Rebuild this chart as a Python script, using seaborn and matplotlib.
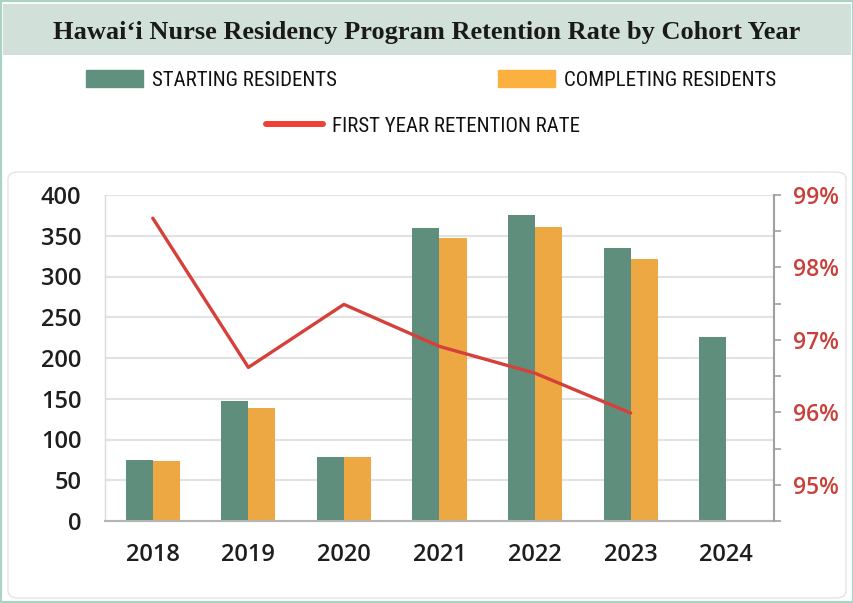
import matplotlib
matplotlib.use('Agg')
import matplotlib.pyplot as plt
import seaborn as sns
import pandas as pd
import numpy as np
from matplotlib.patches import Patch, Rectangle, FancyBboxPatch
from matplotlib.lines import Line2D
from matplotlib.ticker import MultipleLocator, FuncFormatter
from matplotlib import font_manager

years = ['2018', '2019', '2020', '2021', '2022', '2023', '2024']
starting = [75, 147, 79, 359, 375, 335, 226]
completing = [74, 139, 78, 347, 361, 321, np.nan]
retention = [98.68, 96.62, 97.49, 96.91, 96.54, 95.99]

green = '#5f8f7c'
orange = '#eea843'
red = '#d6403a'

sns.set_style('white')
installed = {f.name for f in font_manager.fontManager.ttflist}


def pick(names):
    for n in names:
        if n in installed:
            return n
    return 'DejaVu Sans'


legend_font = pick(['Liberation Sans Narrow', 'Roboto Condensed', 'Roboto', 'Open Sans'])
tick_font = pick(['Open Sans', 'Noto Sans'])
plt.rcParams['font.family'] = [tick_font, 'DejaVu Sans']

W, H = 854, 603
fig = plt.figure(figsize=(W / 100, H / 100), dpi=100)

# frame, title band and chart panel
fig.add_artist(Rectangle((0, 0), 1, 1, transform=fig.transFigure, fill=False,
                         ec='#a9d4c5', lw=3, zorder=-3))
fig.add_artist(Rectangle((3 / W, 1 - 55 / H), 1 - 6 / W, 51 / H, transform=fig.transFigure,
                         fc='#d1e0d9', ec='none', zorder=-2))
fig.add_artist(FancyBboxPatch((8 / W, 1 - 598 / H), 838 / W, 426 / H,
                              boxstyle='round,pad=0,rounding_size=0.012',
                              transform=fig.transFigure, fc='white', ec='#e4e4e4',
                              lw=1, zorder=-1))

fig.text(0.5, 1 - 33 / H, 'Hawaiʻi Nurse Residency Program Retention Rate by Cohort Year',
         ha='center', va='center', fontsize=19, fontweight='bold',
         family=['Liberation Serif', 'DejaVu Serif'], color='#1a1a1a')

ax = fig.add_axes([105 / W, 1 - 521 / H, 669 / W, 326 / H])
ax.patch.set_alpha(0)
df = pd.DataFrame({
    'year': years * 2,
    'series': ['STARTING RESIDENTS'] * len(years) + ['COMPLETING RESIDENTS'] * len(years),
    'count': starting + completing,
})
sns.barplot(data=df, x='year', y='count', hue='series', order=years,
            palette=[green, orange], width=0.566, saturation=1, legend=False,
            linewidth=0, ax=ax)
ax.set_xlim(-0.5, 6.5)
ax.set_ylim(0, 400)
ax.set_yticks(range(0, 401, 50))
ax.grid(axis='y', color='#e2e2e2', lw=1.5)
ax.set_axisbelow(True)
ax.set_xlabel('')
ax.set_ylabel('')
ax.tick_params(axis='x', length=0, pad=16, labelsize=17, labelcolor='#1e1e1e')
ax.tick_params(axis='y', length=0, pad=17, labelsize=17, labelcolor='#1e1e1e')
for lab in ax.get_xticklabels() + ax.get_yticklabels():
    lab.set_fontweight(600)
for s in ['top', 'right']:
    ax.spines[s].set_visible(False)
ax.spines['left'].set_color('#d9d9d9')
ax.spines['left'].set_linewidth(1)
ax.spines['bottom'].set_color('#b3b3b3')
ax.spines['bottom'].set_linewidth(1.5)

ax2 = ax.twinx()
sns.lineplot(x=years[:len(retention)], y=retention, ax=ax2, color=red, lw=2.4)
ax.set_xlim(-0.5, 6.5)
ax2.set_ylim(94.5, 99)
ax2.set_yticks([95, 96, 97, 98, 99])
ax2.yaxis.set_minor_locator(MultipleLocator(0.5))
ax2.yaxis.set_major_formatter(FuncFormatter(lambda v, p: f'{v:.0f}%'))
ax2.tick_params(axis='y', which='both', length=5, width=1.2, color='#a0a0a0',
                pad=9, labelsize=16.5, labelcolor='#c9403a')
for lab in ax2.get_yticklabels():
    lab.set_fontweight(600)
ax2.set_ylabel('')
for s in ['top', 'left', 'bottom']:
    ax2.spines[s].set_visible(False)
ax2.spines['right'].set_color('#a0a0a0')
ax2.spines['right'].set_linewidth(1.5)

# legend entries placed like the reference
fs = 15
fpx = fs * 100 / 72
common = dict(loc='center left', frameon=False, borderpad=0, borderaxespad=0,
              handlelength=57 / fpx, handleheight=18 / fpx, handletextpad=9 / fpx,
              prop={'family': legend_font, 'size': fs}, labelcolor='#111111')
fig.legend(handles=[Patch(color='#5f917e')], labels=['STARTING RESIDENTS'],
           bbox_to_anchor=(86 / W, 1 - 80 / H), **common)
fig.legend(handles=[Patch(color='#fbb040')], labels=['COMPLETING RESIDENTS'],
           bbox_to_anchor=(498 / W, 1 - 80 / H), **common)
fig.legend(handles=[Line2D([], [], color='#ef4136', lw=4.3)], labels=['FIRST YEAR RETENTION RATE'],
           bbox_to_anchor=(266 / W, 1 - 126 / H), **common)

fig.savefig('out.png', dpi=100)
